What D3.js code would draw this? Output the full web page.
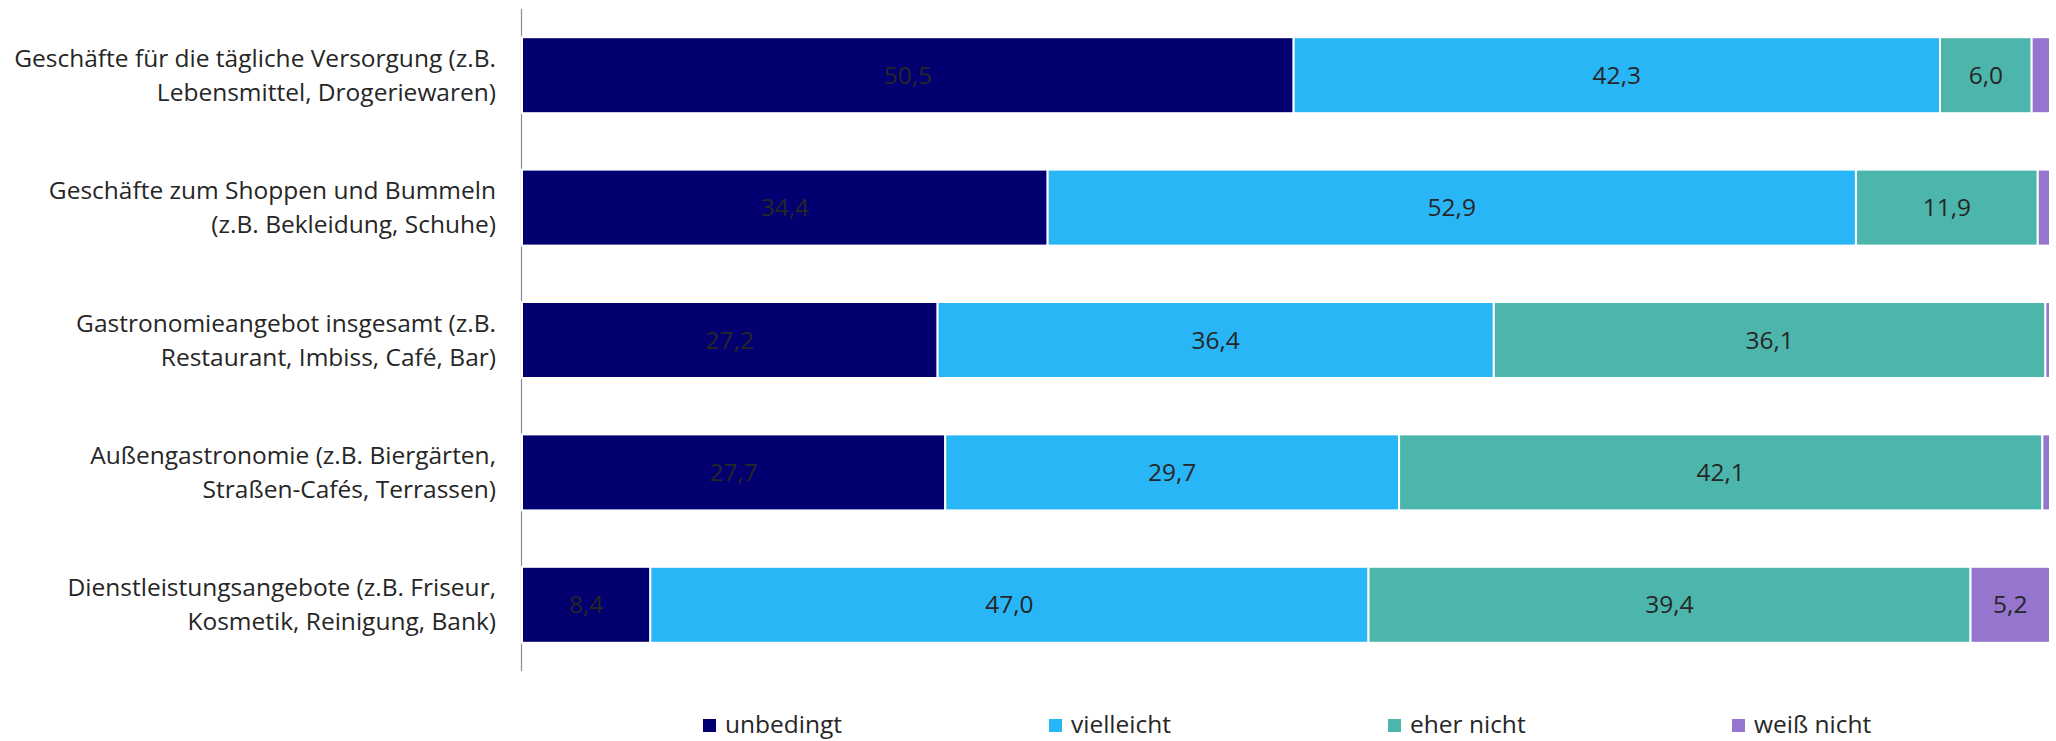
<!DOCTYPE html>
<html><head><meta charset="utf-8">
<script src="https://cdn.jsdelivr.net/npm/d3@7/dist/d3.min.js"></script>
<style>body{margin:0;background:#fff}svg{display:block}</style>
</head><body>
<svg id="chart" width="2056" height="741"></svg>
<script>
const categories = [
  ["Geschäfte für die tägliche Versorgung (z.B.", "Lebensmittel, Drogeriewaren)"],
  ["Geschäfte zum Shoppen und Bummeln", "(z.B. Bekleidung, Schuhe)"],
  ["Gastronomieangebot insgesamt (z.B.", "Restaurant, Imbiss, Café, Bar)"],
  ["Außengastronomie (z.B. Biergärten,", "Straßen-Cafés, Terrassen)"],
  ["Dienstleistungsangebote (z.B. Friseur,", "Kosmetik, Reinigung, Bank)"]
];
const seriesNames = ["unbedingt", "vielleicht", "eher nicht", "weiß nicht"];
const unbedingt  = [50.5, 34.4, 27.2, 27.7, 8.4];
const vielleicht = [42.3, 52.9, 36.4, 29.7, 47.0];
const eherNicht  = [6.0, 11.9, 36.1, 42.1, 39.4];
const weissNicht = [1.2, 0.8, 0.3, 0.5, 5.2];
const colors = ["#020070", "#29B6F6", "#4DB6AC", "#9575CD"];
const labelFont = "Open Sans, sans-serif";
const fs = 24.5;

const seriesValues = [unbedingt, vielleicht, eherNicht, weissNicht];
const rows = categories.map((c, i) => {
  const o = {idx: i};
  seriesNames.forEach((s, k) => o[s] = seriesValues[k][i]);
  return o;
});
const stacked = d3.stack().keys(seriesNames)(rows);

const svg = d3.select("#chart");
const x = d3.scaleLinear().domain([0, 100]).range([522, 2050]);
const y = d3.scaleBand().domain(d3.range(categories.length)).range([9, 671])
  .paddingInner(0.426).paddingOuter(0.213);

svg.append("line").attr("x1", 521.5).attr("x2", 521.5).attr("y1", 9).attr("y2", 671)
  .attr("stroke", "#8c8c8c").attr("stroke-width", 1.2);

const g = svg.append("g");
stacked.forEach((layer, k) => {
  g.selectAll(null).data(layer).enter().append("rect")
    .attr("x", d => x(d[0]))
    .attr("y", (d, i) => y(i))
    .attr("width", d => Math.max(0, x(d[1]) - x(d[0])))
    .attr("height", y.bandwidth())
    .attr("fill", colors[k])
    .attr("stroke", "#fff").attr("stroke-width", 2);
});

stacked.forEach((layer, k) => {
  g.selectAll(null).data(layer.filter(d => d[1] - d[0] >= 3)).enter().append("text")
    .attr("x", d => (x(d[0]) + x(d[1])) / 2)
    .attr("y", d => y(d.data.idx) + y.bandwidth() / 2)
    .attr("dy", "0.35em")
    .attr("text-anchor", "middle")
    .attr("font-family", labelFont).attr("font-size", fs)
    .attr("fill", "#262626")
    .text(d => d3.format(".1f")(d[1] - d[0]).replace(".", ","));
});

categories.forEach((lines, i) => {
  const cy = y(i) + y.bandwidth() / 2;
  const t = svg.append("text").attr("text-anchor", "end")
    .attr("font-family", labelFont).attr("font-size", fs).attr("fill", "#262626");
  lines.forEach((ln, j) => {
    t.append("tspan").attr("x", 496).attr("y", cy + (j - 0.5) * 34).attr("dy", "0.35em").text(ln);
  });
});

const legendX = [703, 1049, 1388, 1732];
const lg = svg.append("g");
seriesNames.forEach((s, k) => {
  lg.append("rect").attr("x", legendX[k]).attr("y", 719).attr("width", 13).attr("height", 13).attr("fill", colors[k]);
  lg.append("text").attr("x", legendX[k] + 22).attr("y", 724.5).attr("dy", "0.35em")
    .attr("font-family", labelFont).attr("font-size", fs).attr("fill", "#262626").text(s);
});
</script>
</body></html>
